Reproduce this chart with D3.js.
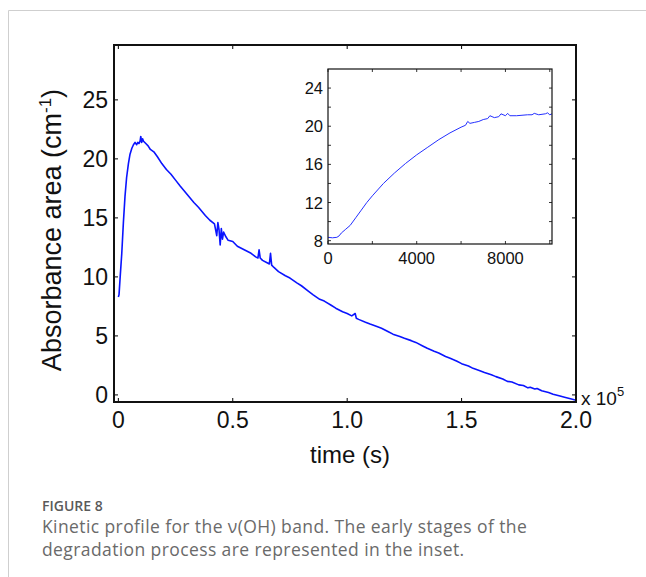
<!DOCTYPE html>
<html>
<head>
<meta charset="utf-8">
<script src="https://cdn.jsdelivr.net/npm/d3@7"></script>
<style>
  body { margin: 0; background: #fff; }
</style>
</head>
<body>
<script>
// main series : time (s) / absorbance area
const mainTime = [0, 300, 800, 1500, 2200, 2900, 3600, 4400, 5100, 5900, 6600, 7300, 8000, 8500, 9000, 9500, 9800,
  10200, 10600, 11000, 12000, 13000, 14000, 15500, 17000, 19000, 21000, 23000, 25000, 27000, 30000, 33000, 35000,
  38000, 40000, 42000, 43000, 43500, 44000, 44500, 45000, 45500, 46000, 47000, 48000, 50000, 52000, 55000, 58000,
  60000, 61000, 61500, 62000, 63000, 65000, 66000, 66500, 67000, 68000, 70000, 73000, 75000, 78000, 80000, 83000,
  85000, 88000, 90000, 93000, 95000, 98000, 100000, 102000, 103500, 104000, 105000, 108000, 110000, 113000, 115000,
  118000, 120000, 123000, 125000, 128000, 130000, 133000, 135000, 138000, 140000, 143000, 145000, 148000, 150000,
  153000, 155000, 158000, 160000, 163000, 165000, 168000, 170000, 172000, 175000, 177000, 179000, 180000, 182000,
  183000, 185000, 188000, 190000, 193000, 195000, 198000, 200000];
const mainAbs = [8.3, 8.5, 10.0, 12.0, 14.6, 16.8, 18.4, 19.6, 20.4, 20.9, 21.2, 21.4, 21.2, 21.4, 21.3, 21.5, 21.9,
  21.4, 21.7, 21.5, 21.3, 21.1, 20.8, 20.6, 20.2, 19.6, 19.1, 18.7, 18.2, 17.7, 17.0, 16.3, 15.9,
  15.2, 14.8, 14.5, 13.5, 14.6, 14.0, 12.7, 14.1, 13.2, 13.8, 13.4, 13.1, 13.0, 12.6, 12.3, 12.0,
  11.7, 11.6, 12.3, 11.6, 11.4, 11.2, 11.1, 12.0, 11.0, 10.8, 10.45, 10.1, 9.9, 9.5, 9.25, 8.8,
  8.5, 8.1, 7.95, 7.6, 7.35, 7.05, 6.9, 6.7, 6.9, 6.5, 6.4, 6.15, 6.0, 5.8, 5.65,
  5.35, 5.15, 4.95, 4.8, 4.6, 4.45, 4.15, 3.95, 3.7, 3.55, 3.25, 3.1, 2.85, 2.65,
  2.45, 2.25, 2.05, 1.9, 1.7, 1.55, 1.35, 1.15, 1.1, 0.85, 0.8, 0.6, 0.65, 0.5,
  0.55, 0.35, 0.2, 0.06, -0.1, -0.2, -0.35, -0.45];

// inset series : early stage
const insetTime = [0, 200, 400, 500, 600, 800, 1000, 1250, 1500, 1750, 2000, 2500, 3000, 3500, 4000, 4500, 5000,
  5500, 6000, 6200, 6300, 6400, 6600, 6800, 7000, 7200, 7300, 7500, 7700, 7800, 8000, 8100, 8200, 8500, 9000,
  9200, 9300, 9500, 9800, 9900, 10000, 10100];
const insetAbs = [8.35, 8.3, 8.35, 8.5, 8.8, 9.2, 9.6, 10.4, 11.2, 12.0, 12.7, 14.0, 15.1, 16.1, 17.0, 17.8, 18.6,
  19.3, 19.9, 20.1, 20.5, 20.3, 20.4, 20.5, 20.7, 20.8, 21.1, 20.9, 21.0, 21.3, 21.1, 21.35, 21.1, 21.1, 21.2,
  21.2, 21.35, 21.2, 21.3, 21.4, 21.2, 21.3];

const mainXTicks = [0, 50000, 100000, 150000, 200000];
const mainXLabels = ["0", "0.5", "1.0", "1.5", "2.0"];
const mainYTicks = [0, 5, 10, 15, 20, 25];
const insetXTicks = [0, 2000, 4000, 6000, 8000, 10000];
const insetXLabels = [0, 4000, 8000];
const insetYTicks = [8, 10, 12, 14, 16, 18, 20, 22, 24];
const insetYLabels = [8, 12, 16, 20, 24];

const W = 646, H = 577;
const svg = d3.select("body").append("svg")
  .attr("width", W).attr("height", H)
  .style("font-family", "'Liberation Sans', Arial, sans-serif");

// page frame
svg.append("path")
  .attr("d", `M8.5,${H + 5} L8.5,10.5 L${W + 5},10.5`)
  .attr("fill", "none").attr("stroke", "#cfcfcf").attr("stroke-width", 1);

// main plot
const m = {left: 114, right: 576, top: 45, bottom: 402};
const x = d3.scaleLinear().domain([-1900, 200000]).range([m.left, m.right]);
const y = d3.scaleLinear().domain([-0.6, 29.65]).range([m.bottom, m.top]);

const g = svg.append("g");

// ticks inward on all sides
const tick = 4;
mainXTicks.forEach(t => {
  g.append("line").attr("x1", x(t)).attr("x2", x(t)).attr("y1", m.bottom).attr("y2", m.bottom - tick)
    .attr("stroke", "#000").attr("stroke-width", 1);
  g.append("line").attr("x1", x(t)).attr("x2", x(t)).attr("y1", m.top).attr("y2", m.top + tick)
    .attr("stroke", "#000").attr("stroke-width", 1);
});
mainYTicks.forEach(v => {
  g.append("line").attr("x1", m.left).attr("x2", m.left + tick).attr("y1", y(v)).attr("y2", y(v))
    .attr("stroke", "#000").attr("stroke-width", 1);
  g.append("line").attr("x1", m.right).attr("x2", m.right - tick).attr("y1", y(v)).attr("y2", y(v))
    .attr("stroke", "#000").attr("stroke-width", 1);
});

g.selectAll(".xl").data(mainXTicks).join("text")
  .attr("x", d => x(d)).attr("y", 428)
  .attr("text-anchor", "middle").attr("font-size", 23).attr("fill", "#111")
  .text((d, i) => mainXLabels[i]);
g.selectAll(".yl").data(mainYTicks).join("text")
  .attr("x", 108).attr("y", d => y(d) + 8)
  .attr("text-anchor", "end").attr("font-size", 23).attr("fill", "#111")
  .text(d => d);

const xMult = g.append("text").attr("x", 581).attr("y", 405).attr("font-size", 19).attr("fill", "#111");
xMult.append("tspan").text("x 10");
xMult.append("tspan").attr("dy", -9).attr("font-size", 13).text("5");

const mainLine = d3.line().x((d, i) => x(mainTime[i])).y(d => y(d));
g.append("path").datum(mainAbs)
  .attr("d", mainLine)
  .attr("fill", "none").attr("stroke", "#0a14ff").attr("stroke-width", 1.6)
  .attr("stroke-linejoin", "round");

g.append("rect").attr("x", m.left).attr("y", m.top)
  .attr("width", m.right - m.left).attr("height", m.bottom - m.top)
  .attr("fill", "none").attr("stroke", "#111").attr("stroke-width", 2);

// axis titles
g.append("text").attr("x", 350).attr("y", 463)
  .attr("text-anchor", "middle").attr("font-size", 24).attr("fill", "#111")
  .text("time (s)");
const yt = g.append("text")
  .attr("transform", "translate(61,230) rotate(-90)")
  .attr("text-anchor", "middle").attr("font-size", 27).attr("fill", "#111");
yt.append("tspan").text("Absorbance area (cm");
yt.append("tspan").attr("dy", -10).attr("font-size", 17).text("-1");
yt.append("tspan").attr("dy", 10).text(")");

// inset
const n = {left: 328, right: 552, top: 69, bottom: 244};
const xi = d3.scaleLinear().domain([0, 10100]).range([n.left, n.right]);
const yi = d3.scaleLinear().domain([7.65, 26]).range([n.bottom, n.top]);
const gi = svg.append("g");

const itick = 3;
insetXTicks.forEach(t => {
  gi.append("line").attr("x1", xi(t)).attr("x2", xi(t)).attr("y1", n.bottom).attr("y2", n.bottom - itick)
    .attr("stroke", "#000").attr("stroke-width", 0.8);
  gi.append("line").attr("x1", xi(t)).attr("x2", xi(t)).attr("y1", n.top).attr("y2", n.top + itick)
    .attr("stroke", "#000").attr("stroke-width", 0.8);
});
insetYTicks.forEach(v => {
  gi.append("line").attr("x1", n.left).attr("x2", n.left + itick).attr("y1", yi(v)).attr("y2", yi(v))
    .attr("stroke", "#000").attr("stroke-width", 0.8);
  gi.append("line").attr("x1", n.right).attr("x2", n.right - itick).attr("y1", yi(v)).attr("y2", yi(v))
    .attr("stroke", "#000").attr("stroke-width", 0.8);
});
gi.selectAll(".ixl").data(insetXLabels).join("text")
  .attr("x", d => xi(d)).attr("y", 264)
  .attr("text-anchor", "middle").attr("font-size", 16.5).attr("fill", "#111")
  .text(d => d);
gi.selectAll(".iyl").data(insetYLabels).join("text")
  .attr("x", 323).attr("y", d => yi(d) + 6)
  .attr("text-anchor", "end").attr("font-size", 16.5).attr("fill", "#111")
  .text(d => d);

const insetLine = d3.line().x((d, i) => xi(insetTime[i])).y(d => yi(d));
gi.append("path").datum(insetAbs)
  .attr("d", insetLine)
  .attr("fill", "none").attr("stroke", "#2430ff").attr("stroke-width", 1)
  .attr("stroke-linejoin", "round");

gi.append("rect").attr("x", n.left).attr("y", n.top)
  .attr("width", n.right - n.left).attr("height", n.bottom - n.top)
  .attr("fill", "none").attr("stroke", "#111").attr("stroke-width", 1.2);

// caption
const cap = svg.append("g").style("font-family", "'Open Sans', 'Noto Sans', sans-serif");
cap.append("text").attr("x", 42).attr("y", 511)
  .attr("font-size", 14).attr("font-weight", 600).attr("fill", "#5a5a5a")
  .text("FIGURE 8");
cap.append("text").attr("x", 42).attr("y", 533)
  .attr("font-size", 17.5).attr("letter-spacing", 0.4).attr("fill", "#6a6a6a")
  .text("Kinetic profile for the \u03bd(OH) band. The early stages of the");
cap.append("text").attr("x", 42).attr("y", 556)
  .attr("font-size", 17.5).attr("letter-spacing", 0.4).attr("fill", "#6a6a6a")
  .text("degradation process are represented in the inset.");
</script>
</body>
</html>
